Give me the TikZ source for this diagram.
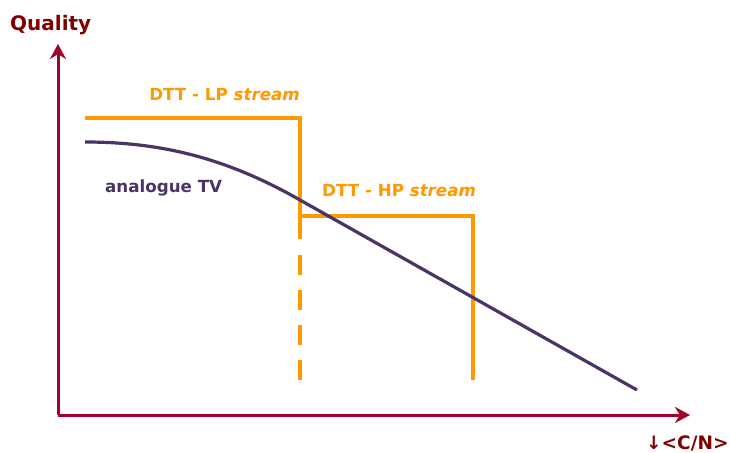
\documentclass[tikz,border=0pt]{standalone}
\usepackage{fontspec}
\setmainfont{DejaVu Sans}
\usetikzlibrary{arrows.meta}
\definecolor{axisred}{HTML}{A0002A}
\definecolor{labelred}{HTML}{800000}
\definecolor{dttorange}{HTML}{FF9900}
\definecolor{tvpurple}{HTML}{4A3366}
\begin{document}
\begin{tikzpicture}[
  x=1pt, y=-1pt,
  axis/.style={draw=axisred, line width=3pt, -{Stealth[length=15pt,width=16pt]}},
  dtt/.style={draw=dttorange, line width=4.5pt},
  tv/.style={draw=tvpurple, line width=3.2pt},
  lbl/.style={inner sep=0pt, font=\fontsize{16.7}{20}\selectfont\bfseries}
]
\useasboundingbox (0,0) rectangle (730,452);

% Axes
\coordinate (origin) at (58,415);
\coordinate (ytip) at (58,44);
\coordinate (xtip) at (690,415);
\draw[axis] (origin) -- (ytip);
\draw[axis] (origin) -- (xtip);
\node[lbl, anchor=base west, text=labelred, font=\fontsize{20}{24}\selectfont\bfseries] (quality) at (10,31) {Quality};
\node[lbl, anchor=base west, text=labelred, font=\fontsize{18.5}{22}\selectfont\bfseries] (cn) at (646,449) {↓<C/N>};

% DTT streams
\coordinate (lpstart) at (85,118);
\coordinate (lpcorner) at (300,118);
\coordinate (lpsolid) at (300,239);
\coordinate (lpdash) at (300,255);
\coordinate (lpend) at (300,381);
\coordinate (hpstart) at (300,216);
\coordinate (hpcorner) at (473,216);
\coordinate (hpend) at (473,380);
\draw[dtt] (lpstart) -- (lpcorner) -- (lpsolid);
\draw[dtt, dash pattern=on 20pt off 15pt] (lpdash) -- (lpend);
\draw[dtt] (hpstart) -- (hpcorner) -- (hpend);
\node[lbl, anchor=base east, text=dttorange] (lp) at (300,100) {DTT - LP \textit{stream}};
\node[lbl, anchor=base west, text=dttorange] (hp) at (322,196) {DTT - HP \textit{stream}};

% Analogue curve
\coordinate (tvstart) at (85,142);
\coordinate (tvknee) at (300,200);
\coordinate (tvend) at (637,390);
\draw[tv] (tvstart) .. controls (165,142) and (230,160) .. (tvknee) -- (tvend);
\node[lbl, anchor=base west, text=tvpurple] (tv) at (105,192) {analogue TV};
\end{tikzpicture}
\end{document}
